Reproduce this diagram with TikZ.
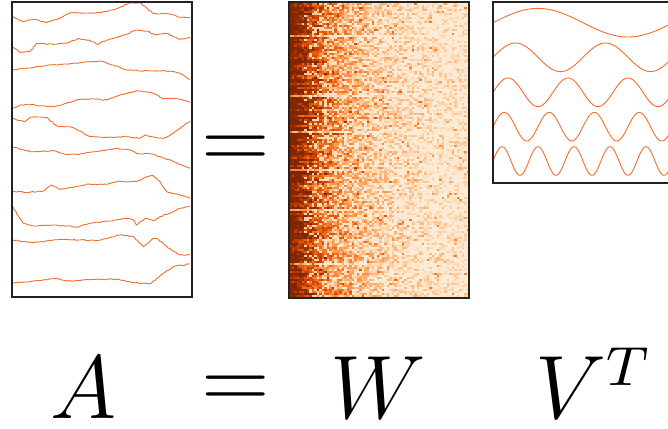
\documentclass[tikz,border=0pt]{standalone}
\usepackage{amsmath}
\usetikzlibrary{decorations.pathmorphing,positioning}
\definecolor{frameink}{RGB}{34,34,34}
\definecolor{traceor}{RGB}{242,110,45}
\definecolor{oma}{RGB}{255,245,235}
\definecolor{omb}{RGB}{253,208,162}
\definecolor{omc}{RGB}{253,141,60}
\definecolor{omd}{RGB}{217,72,1}
\definecolor{ome}{RGB}{127,39,4}

\begin{document}
\begin{tikzpicture}[x=1pt,y=-1pt,
  panel/.style={draw=frameink,line width=2pt,anchor=north west,inner sep=0pt,outer sep=0pt,minimum width=180pt},
  trace/.style={traceor,line width=0.9pt,line join=round,decorate,decoration={random steps,segment length=2pt,amplitude=0.5pt}},
  wave/.style={traceor,line width=0.9pt},
  sym/.style={font=\fontsize{12}{14}\selectfont,scale=7.5,anchor=base,inner sep=0pt}]
  \useasboundingbox (0,0) rectangle (668,428);
  \pgfmathsetseed{11}
  % time courses
  \begin{scope}[x=0.3333pt,y=-0.3333pt]
    \draw[trace] plot coordinates {(37,50)(70,65)(100,58)(140,67)(180,55)(210,38)(270,40)(320,35)(360,22)(390,8)(420,8)(460,40)(510,42)(540,52)(570,52)};
    \draw[trace] plot coordinates {(37,140)(60,157)(90,155)(110,130)(160,133)(200,130)(235,115)(270,122)(295,133)(320,120)(360,110)(410,90)(440,93)(470,105)(500,100)(540,118)(570,112)};
    \draw[trace] plot coordinates {(37,210)(80,205)(150,195)(230,190)(260,185)(300,183)(340,195)(380,210)(450,213)(510,213)(540,220)(570,238)};
    \draw[trace] plot coordinates {(37,325)(60,315)(100,313)(120,318)(165,320)(200,310)(240,298)(280,297)(320,300)(360,285)(410,272)(460,280)(490,296)(515,295)(540,298)(570,307)};
    \draw[trace] plot coordinates {(37,355)(75,365)(90,352)(140,352)(170,378)(200,380)(220,383)(270,410)(320,412)(380,410)(420,415)(435,405)(450,410)(470,413)(490,415)(520,400)(540,385)(570,363)};
    \draw[trace] plot coordinates {(37,440)(90,455)(160,452)(200,463)(240,462)(290,455)(350,445)(390,450)(410,460)(460,462)(520,485)(570,505)};
    \draw[trace] plot coordinates {(37,575)(60,575)(75,578)(130,573)(155,555)(180,568)(200,565)(260,553)(320,553)(350,545)(410,545)(440,530)(460,527)(480,545)(500,575)(540,585)(570,595)};
    \draw[trace] plot coordinates {(37,620)(70,670)(100,678)(160,675)(200,678)(230,682)(270,670)(330,663)(380,655)(400,660)(410,675)(420,665)(440,655)(460,662)(480,650)(520,635)(540,625)(570,618)};
    \draw[trace] plot coordinates {(37,720)(100,728)(180,718)(240,720)(290,722)(330,713)(360,705)(400,710)(420,730)(430,740)(460,715)(475,718)(500,740)(540,765)(570,765)};
    \draw[trace] plot coordinates {(37,850)(100,843)(170,835)(200,843)(280,838)(350,838)(400,848)(450,852)(490,820)(520,800)(570,792)};
  \end{scope}
  % weights
  \fill[omb!28!oma] (289,3) rectangle (468,297);
  \foreach \j in {0,...,146}{
    \pgfmathsetmacro\rowf{rnd<0.04 ? 0.45 : 0.8+0.4*rnd}
    \foreach \i in {0,...,71}{
      \pgfmathsetmacro\mm{(0.1+1.05*exp(-\i/20))*\rowf}
      \pgfmathsetmacro\tv{rnd<0.3*(1-exp(-max(0,\i-4)/5)) ? 0.3*\mm : \mm+0.35*(rnd-0.5)+(rnd<0.06 ? 0.25 : 0)}
      \pgfmathsetmacro\tv{max(0,min(0.999,\tv))}
      \ifdim\tv pt>0.13pt
        \pgfmathtruncatemacro\seg{floor(\tv*4)}
        \pgfmathsetmacro\fr{(\tv*4-\seg)*100}
        \ifcase\seg \colorlet{cellc}{omb!\fr!oma}\or \colorlet{cellc}{omc!\fr!omb}\or
          \colorlet{cellc}{omd!\fr!omc}\or \colorlet{cellc}{ome!\fr!omd}\fi
        \fill[cellc] ({289+2.5*\i},{3+2*\j}) rectangle ++(2.8,2.3);
      \fi
    }
  }
  % components
  \foreach \k/\c in {1/22.7,2/57.3,3/92.3,4/126.7,5/161}
    \draw[wave] plot[domain=0:180,samples=220] ({493+\x},{\c-14.3*sin(2*\k*\x)});
  \node[panel,minimum height=295pt] (amat) at (11.5,2) {};
  \node[panel,minimum height=295.5pt] (wmat) at (288.5,2) {};
  \node[panel,minimum height=181pt] (vmat) at (492.5,2) {};
  \node[sym] (eqtop) at (236,168.8) {$=$};
  \node[sym] (lbla) at (84,418) {$A$};
  \node[sym] (eqbot) at (236,408.8) {$=$};
  \node[sym] (lblw) at (378,418) {$W$};
  \node[sym] (lblv) at (594,418) {$V^{\scalebox{0.92}{$\scriptstyle T$}}$};
\end{tikzpicture}
\end{document}
